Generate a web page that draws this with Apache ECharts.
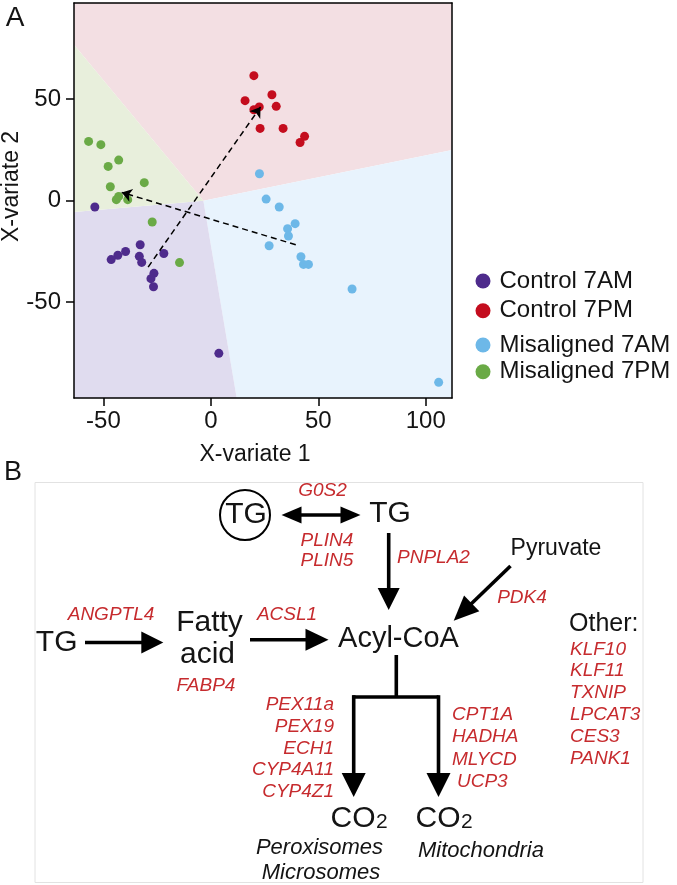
<!DOCTYPE html>
<html><head><meta charset="utf-8">
<script src="https://cdn.jsdelivr.net/npm/echarts@6/dist/echarts.min.js"></script>
<style>html,body{margin:0;padding:0;background:#fff}#c{width:677px;height:885px}</style>
</head><body><div id="c"></div>
<script>
// ---------- Panel A data ----------
const groups = ['Control 7AM', 'Control 7PM', 'Misaligned 7AM', 'Misaligned 7PM'];
const control7AM = [[-54,-3.1],[-32.9,-21.7],[-39.7,-25],[-43.3,-26.9],[-46.4,-29],[-33.3,-27.4],[-32.2,-30.4],[-21.9,-26],[-26.5,-35.8],[-27.9,-38.4],[-26.7,-42.4],[3.7,-75.2]];
const control7PM = [[20,61.6],[15.9,49.3],[28.4,52.2],[20,44.8],[22.5,46.2],[30.4,46.5],[22.9,35.6],[33.6,35.6],[43.6,31.7],[41.5,28.7]];
const misaligned7AM = [[22.6,13.3],[25.7,0.8],[31.8,-3.1],[39.2,-11.3],[35.7,-13.8],[36.1,-17.4],[27.1,-22.2],[41.9,-27.6],[43.1,-31.4],[45.4,-31.4],[65.7,-43.5],[106,-89.5]];
const misaligned7PM = [[-56.9,29.2],[-51.2,27.6],[-42.9,20],[-47.8,16.9],[-31,8.9],[-46.8,6.9],[-42.9,2.1],[-44,0.5],[-38.7,0.5],[-27.3,-10.5],[-14.6,-30.5]];
// shift arrows: Control 7AM -> Control 7PM, Misaligned 7AM -> Misaligned 7PM
const arrowControl = [[-29.2,-32.7],[23.1,46.2]];
const arrowMisaligned = [[39.5,-21.7],[-41.5,4.1]];
// prediction-region polygons (data coordinates)
const xRange = [-63.7, 112.2];
const yRange = [-97.2, 97.4];
const regionControl7PM = [[-63.7,76.8],[-63.7,97.4],[112.2,97.4],[112.2,25],[-3.5,0]];
const regionMisaligned7AM = [[-3.5,0],[112.2,25],[112.2,-97.2],[12,-97.2]];
const regionControl7AM = [[-63.7,-5.6],[-3.5,0],[12,-97.2],[-63.7,-97.2]];
const regionMisaligned7PM = [[-63.7,76.8],[-3.5,0],[-63.7,-5.6]];
const xTicks = [-50, 0, 50, 100];
const yTicks = [-50, 0, 50];
const xTitle = 'X-variate 1';
const yTitle = 'X-variate 2';

// ---------- Panel B text ----------
const geneG0S2 = ['G0S2'];
const genesPLIN = ['PLIN4', 'PLIN5'];
const genePNPLA2 = 'PNPLA2';
const genePDK4 = 'PDK4';
const geneANGPTL4 = 'ANGPTL4';
const geneACSL1 = 'ACSL1';
const geneFABP4 = 'FABP4';
const genesPerox = ['PEX11a', 'PEX19', 'ECH1', 'CYP4A11', 'CYP4Z1'];
const genesMito = ['CPT1A', 'HADHA', 'MLYCD', 'UCP3'];
const genesOther = ['KLF10', 'KLF11', 'TXNIP', 'LPCAT3', 'CES3', 'PANK1'];

const FF = '"Liberation Sans", Arial, Helvetica, sans-serif';
const RED = '#c62b2e';
const INK = '#141414';
const pointColors = ['#4e2b8c', '#c40d1e', '#6db8e8', '#6aaa46'];
const regionColors = ['#f3dfe3', '#e8f3fd', '#e0dcef', '#e8efdc'];
const regions = [regionControl7PM, regionMisaligned7AM, regionControl7AM, regionMisaligned7PM];

function txt(x, y, text, size, o) {
  o = o || {};
  return {
    type: 'text', x: x, y: y, silent: true, rotation: o.rot || 0,
    style: {
      text: text, fill: o.color || INK,
      font: (o.italic ? 'italic ' : '') + size + 'px ' + FF,
      align: o.align || 'center', verticalAlign: 'middle'
    }
  };
}
function arrow(x1, y1, x2, y2, len, wid) {
  const dx = x2 - x1, dy = y2 - y1, L = Math.hypot(dx, dy);
  const ux = dx / L, uy = dy / L, px = -uy, py = ux;
  const bx = x2 - ux * len, by = y2 - uy * len;
  return [
    {type: 'line', silent: true, shape: {x1: x1, y1: y1, x2: bx + ux * 2, y2: by + uy * 2}, style: {stroke: '#000', lineWidth: 3.6}},
    {type: 'polygon', silent: true, shape: {points: [[x2, y2], [bx + px * wid / 2, by + py * wid / 2], [bx - px * wid / 2, by - py * wid / 2]]}, style: {fill: '#000'}}
  ];
}

const g = [];
// panel letters and axis titles
g.push(txt(15, 18, 'A', 28));
g.push(txt(13, 473, 'B', 27));
g.push(txt(255, 455, xTitle, 23));
g.push(txt(12, 186.5, yTitle, 23, {rot: Math.PI / 2}));
// panel B frame
g.push({type: 'rect', silent: true, shape: {x: 35, y: 482.5, width: 608, height: 400}, style: {fill: 'none', stroke: '#e2e2e2', lineWidth: 1}});
// top: circled TG <-> TG
g.push({type: 'circle', silent: true, shape: {cx: 245, cy: 515, r: 25}, style: {fill: 'none', stroke: '#000', lineWidth: 2}});
g.push(txt(246, 515, 'TG', 30));
g.push(txt(390, 514, 'TG', 30));
g.push(...arrow(300, 515, 281.5, 515, 20, 17));
g.push(...arrow(300, 515, 360.5, 515, 20, 17));
g.push(txt(322.5, 490.5, geneG0S2[0], 19, {italic: true, color: RED}));
genesPLIN.forEach((s, i) => g.push(txt(327, 541 + i * 19.5, s, 19, {italic: true, color: RED})));
// TG -> Acyl-CoA
g.push(...arrow(388.7, 533, 388.7, 610, 22, 22));
g.push(txt(397, 558, genePNPLA2, 19, {italic: true, color: RED, align: 'left'}));
// Pyruvate -> Acyl-CoA
g.push(txt(556, 549, 'Pyruvate', 23));
g.push(...arrow(510.5, 566, 453.7, 620.7, 25, 22));
g.push(txt(522, 598, genePDK4, 19, {italic: true, color: RED}));
// TG -> Fatty acid -> Acyl-CoA
g.push(txt(56.7, 643, 'TG', 30));
g.push(...arrow(85, 642.5, 163.3, 642.5, 22, 22));
g.push(txt(111, 615, geneANGPTL4, 19, {italic: true, color: RED}));
g.push(txt(209.5, 623, 'Fatty', 30));
g.push(txt(207.5, 655, 'acid', 30));
g.push(txt(206, 685.5, geneFABP4, 19, {italic: true, color: RED}));
g.push(...arrow(250, 639.7, 328.5, 639.7, 23, 22));
g.push(txt(287, 615, geneACSL1, 19, {italic: true, color: RED}));
g.push(txt(398.5, 639, 'Acyl-CoA', 29));
// Other
g.push(txt(569, 624, 'Other:', 25, {align: 'left'}));
genesOther.forEach((s, i) => g.push(txt(570, 649.3 + i * 21.9, s, 19, {italic: true, color: RED, align: 'left'})));
// branching tree
g.push({type: 'polyline', silent: true, shape: {points: [[396.3, 655], [396.3, 697]]}, style: {stroke: '#000', lineWidth: 3.6}});
g.push({type: 'polyline', silent: true, shape: {points: [[352.5, 697], [438.5, 697]]}, style: {stroke: '#000', lineWidth: 3.6}});
g.push(...arrow(353.7, 695.2, 353.7, 797, 24, 24));
g.push(...arrow(438.5, 695.2, 438.5, 797, 24, 24));
genesPerox.forEach((s, i) => g.push(txt(334, 705 + i * 21.7, s, 19, {italic: true, color: RED, align: 'right'})));
genesMito.forEach((s, i) => g.push(txt(i === 3 ? 457 : 452, 715 + i * 22.2, s, 19, {italic: true, color: RED, align: 'left'})));
// CO2 products
function co2(xStart) {
  g.push(txt(xStart, 819, 'CO', 30, {align: 'left'}));
  g.push(txt(xStart + 45.5, 822.5, '2', 21, {align: 'left'}));
}
co2(330.5);
co2(415.5);
g.push(txt(319.5, 848, 'Peroxisomes', 22, {italic: true}));
g.push(txt(321, 872.5, 'Microsomes', 22, {italic: true}));
g.push(txt(481, 851, 'Mitochondria', 22, {italic: true}));

const axisLineStyle = {color: '#000', width: 1.5};
const labelStyle = {fontSize: 24, color: INK, fontFamily: FF};

const chart = echarts.init(document.getElementById('c'), null, {renderer: 'canvas'});
chart.setOption({
  animation: false,
  backgroundColor: '#fff',
  grid: {left: 74, top: 3, width: 378, height: 395, containLabel: false},
  xAxis: [
    {type: 'value', min: xRange[0], max: xRange[1], z: 10,
      axisLine: {show: true, onZero: false, lineStyle: axisLineStyle},
      axisTick: {show: true, length: 8, customValues: xTicks, lineStyle: axisLineStyle},
      axisLabel: {customValues: xTicks, margin: 11, ...labelStyle},
      splitLine: {show: false}},
    {type: 'value', position: 'top', min: xRange[0], max: xRange[1], z: 10,
      axisLine: {show: true, onZero: false, lineStyle: axisLineStyle},
      axisTick: {show: false}, axisLabel: {show: false}, splitLine: {show: false}}
  ],
  yAxis: [
    {type: 'value', min: yRange[0], max: yRange[1], z: 10,
      axisLine: {show: true, onZero: false, lineStyle: axisLineStyle},
      axisTick: {show: true, length: 8, customValues: yTicks, lineStyle: axisLineStyle},
      axisLabel: {customValues: yTicks, margin: 13, ...labelStyle},
      splitLine: {show: false}},
    {type: 'value', position: 'right', min: yRange[0], max: yRange[1], z: 10,
      axisLine: {show: true, onZero: false, lineStyle: axisLineStyle},
      axisTick: {show: false}, axisLabel: {show: false}, splitLine: {show: false}}
  ],
  legend: [
    {data: [groups[0], groups[1]], orient: 'vertical', left: 475.5, top: 269, padding: 0,
      itemWidth: 15, itemHeight: 15, itemGap: 5.7, icon: 'circle', selectedMode: false,
      textStyle: {fontSize: 24, color: INK, fontFamily: FF, padding: [0, 0, 0, 4]}},
    {data: [groups[2], groups[3]], orient: 'vertical', left: 475.5, top: 333, padding: 0,
      itemWidth: 15, itemHeight: 15, itemGap: 2.7, icon: 'circle', selectedMode: false,
      textStyle: {fontSize: 24, color: INK, fontFamily: FF, padding: [0, 0, 0, 4]}}
  ],
  series: [
    {type: 'custom', name: 'regions', coordinateSystem: 'cartesian2d', silent: true, z: 1,
      data: regions.map((r, i) => [i, 0]),
      renderItem: function (params, api) {
        const poly = regions[params.dataIndex];
        return {type: 'polygon', shape: {points: poly.map(p => api.coord(p))},
          style: {fill: regionColors[params.dataIndex]}};
      }},
    {type: 'scatter', name: groups[0], data: control7AM, symbolSize: 9, itemStyle: {color: pointColors[0], opacity: 1}, z: 3},
    {type: 'scatter', name: groups[1], data: control7PM, symbolSize: 9, itemStyle: {color: pointColors[1], opacity: 1}, z: 3},
    {type: 'scatter', name: groups[2], data: misaligned7AM, symbolSize: 9, itemStyle: {color: pointColors[2], opacity: 1}, z: 3},
    {type: 'scatter', name: groups[3], data: misaligned7PM, symbolSize: 9, itemStyle: {color: pointColors[3], opacity: 1}, z: 3},
    {type: 'lines', name: 'shift', coordinateSystem: 'cartesian2d', silent: true, z: 5,
      symbol: ['none', 'arrow'], symbolSize: 10,
      lineStyle: {color: '#000', width: 1.5, type: [6, 4], opacity: 1, curveness: 0},
      data: [{coords: arrowControl}, {coords: arrowMisaligned}]}
  ],
  graphic: {elements: g}
});
</script></body></html>
